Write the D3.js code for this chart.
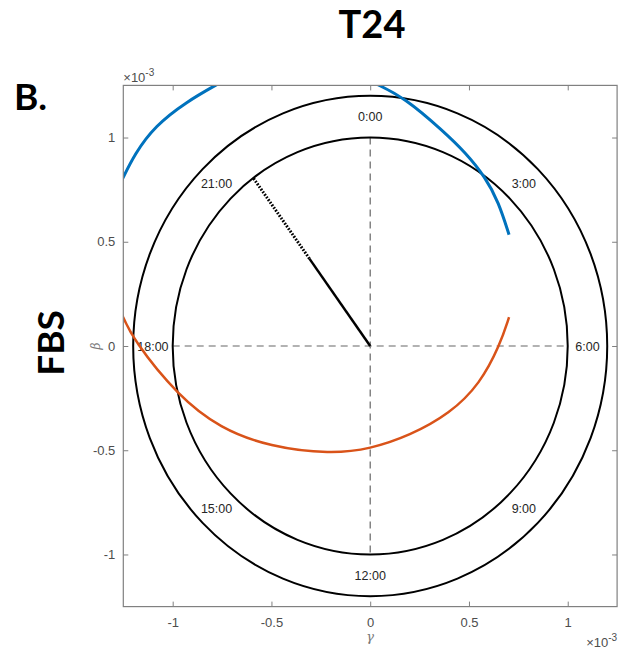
<!DOCTYPE html>
<html>
  <head>
    <meta charset="utf-8">
    <title>T24 FBS cosinor</title>
    <script src="https://cdn.jsdelivr.net/npm/d3@7"></script>
    <style>
      body { margin: 0; background: #fff; }
    </style>
  </head>
  <body>
    <script>

      // values in units of 1e-3
      var xTicks = [-1, -0.5, 0, 0.5, 1];
      var yTicks = [-1, -0.5, 0, 0.5, 1];
      var tickLabels = ["-1", "-0.5", "0", "0.5", "1"];
      var ringRadii = [1.0, 1.2];
      var hourLabels = ["0:00", "3:00", "6:00", "9:00", "12:00", "15:00", "18:00", "21:00"];
      var hourValues = [0, 3, 6, 9, 12, 15, 18, 21];
      var labelRadius = 1.1;

      // acrophase line (hours) and amplitude
      var acrophase = 21.58;
      var amplitude = 0.52;

      // blue confidence curve, two visible pieces [gamma, beta]
      var blueRight = [[0.024, 1.26], [0.176, 1.19], [0.37, 1.03], [0.48, 0.93], [0.583, 0.81], [0.65, 0.69], [0.703, 0.534]];
      var blueLeft = [[-1.26, 0.79], [-1.19, 0.925], [-1.09, 1.055], [-0.93, 1.172], [-0.765, 1.26]];
      // orange confidence curve
      var orange = [[-1.26, 0.158], [-1.2, 0.029], [-0.972, -0.24], [-0.76, -0.395], [-0.507, -0.484],
                    [-0.2, -0.518], [0, -0.494], [0.2, -0.43], [0.404, -0.324], [0.556, -0.182],
                    [0.657, 0.005], [0.703, 0.138]];

      var svg = d3.select("body").append("svg")
                  .attr("width", 622)
                  .attr("height", 652);

      var x = d3.scaleLinear().domain([-1.25, 1.25]).range([123.3, 617.1]);
      var y = d3.scaleLinear().domain([-1.25, 1.25]).range([606.6, 85.4]);

      var plot = svg.append("g");

      svg.append("defs").append("clipPath").attr("id", "box")
        .append("rect")
        .attr("x", x(-1.25)).attr("y", y(1.25))
        .attr("width", x(1.25) - x(-1.25)).attr("height", y(-1.25) - y(1.25));

      // dashed cross
      plot.append("line")
          .attr("x1", x(-1)).attr("x2", x(1)).attr("y1", y(0)).attr("y2", y(0))
          .attr("stroke", "#666").attr("stroke-width", 1.2).attr("stroke-dasharray", "7,5");
      plot.append("line")
          .attr("x1", x(0)).attr("x2", x(0)).attr("y1", y(1)).attr("y2", y(-1))
          .attr("stroke", "#666").attr("stroke-width", 1.2).attr("stroke-dasharray", "7,5");

      // rings
      plot.selectAll(".ring")
          .data(ringRadii)
          .enter()
          .append("ellipse")
          .attr("class", "ring")
          .attr("cx", x(0)).attr("cy", y(0))
          .attr("rx", function(d) { return x(d) - x(0); })
          .attr("ry", function(d) { return y(0) - y(d); })
          .attr("fill", "none").attr("stroke", "#000").attr("stroke-width", 2);

      // hour labels
      plot.selectAll(".hour")
          .data(hourValues)
          .enter()
          .append("text")
          .attr("class", "hour")
          .attr("x", function(d) { return x(labelRadius * Math.sin(d / 24 * 2 * Math.PI)); })
          .attr("y", function(d) { return y(labelRadius * Math.cos(d / 24 * 2 * Math.PI)); })
          .attr("dy", "0.36em")
          .attr("text-anchor", "middle")
          .style("font-family", "Liberation Sans, Arial, sans-serif")
          .style("font-size", "12.5px")
          .attr("fill", "#262626")
          .text(function(d, i) { return hourLabels[i]; });

      // acrophase line: solid to amplitude, dotted out to the unit circle
      var ang = acrophase / 24 * 2 * Math.PI;
      var ux = Math.sin(ang), uy = Math.cos(ang);
      plot.append("line")
          .attr("x1", x(0)).attr("y1", y(0))
          .attr("x2", x(amplitude * ux)).attr("y2", y(amplitude * uy))
          .attr("stroke", "#000").attr("stroke-width", 2.5);
      plot.append("line")
          .attr("x1", x(amplitude * ux)).attr("y1", y(amplitude * uy))
          .attr("x2", x(ux)).attr("y2", y(uy))
          .attr("stroke", "#000").attr("stroke-width", 3).attr("stroke-dasharray", "1.7,1.5");

      var line = d3.line()
                   .x(function(d) { return x(d[0]); })
                   .y(function(d) { return y(d[1]); })
                   .curve(d3.curveBasis);

      var curves = plot.append("g").attr("clip-path", "url(#box)");
      curves.append("path").datum(blueRight).attr("d", line)
            .attr("fill", "none").attr("stroke", "#0072BD").attr("stroke-width", 3);
      curves.append("path").datum(blueLeft).attr("d", line)
            .attr("fill", "none").attr("stroke", "#0072BD").attr("stroke-width", 3);
      curves.append("path").datum(orange).attr("d", line)
            .attr("fill", "none").attr("stroke", "#D95319").attr("stroke-width", 2.5);

      // axes, ticks inside
      var fmt = function(d, i) { return tickLabels[i]; };
      var axisCol = "#808080";

      var gb = svg.append("g").attr("transform", "translate(0," + y(-1.25) + ")")
                  .call(d3.axisBottom(x).tickValues(xTicks).tickFormat(fmt).tickSize(-5).tickPadding(11));
      var gl = svg.append("g").attr("transform", "translate(" + x(-1.25) + ",0)")
                  .call(d3.axisLeft(y).tickValues(yTicks).tickFormat(fmt).tickSize(-5).tickPadding(8));
      var gt = svg.append("g").attr("transform", "translate(0," + y(1.25) + ")")
                  .call(d3.axisTop(x).tickValues(xTicks).tickFormat("").tickSize(-5));
      var gr = svg.append("g").attr("transform", "translate(" + x(1.25) + ",0)")
                  .call(d3.axisRight(y).tickValues(yTicks).tickFormat("").tickSize(-5));

      [gb, gl, gt, gr].forEach(function(g) {
        g.select(".domain").remove();
        g.selectAll(".tick line").attr("stroke", axisCol);
        g.selectAll("text")
         .style("font-family", "Liberation Sans, Arial, sans-serif")
         .style("font-size", "13px")
         .attr("fill", "#4d4d4d");
      });

      svg.append("rect")
         .attr("x", x(-1.25)).attr("y", y(1.25))
         .attr("width", x(1.25) - x(-1.25)).attr("height", y(-1.25) - y(1.25))
         .attr("fill", "none").attr("stroke", axisCol).attr("stroke-width", 1.2);

      // axis labels
      svg.append("text")
         .attr("x", x(0)).attr("y", 641)
         .attr("text-anchor", "middle")
         .style("font-family", "DejaVu Serif, serif").style("font-style", "italic")
         .style("font-size", "13px").attr("fill", "#777")
         .text("γ");
      svg.append("text")
         .attr("transform", "translate(100," + y(0) + ") rotate(-90)")
         .attr("text-anchor", "middle")
         .style("font-family", "DejaVu Serif, serif").style("font-style", "italic")
         .style("font-size", "12px").attr("fill", "#777")
         .text("β");

      // exponent labels
      function expo(xp, yp, anchor) {
        var t = svg.append("text")
                   .attr("x", xp).attr("y", yp)
                   .attr("text-anchor", anchor)
                   .style("font-family", "Liberation Sans, Arial, sans-serif")
                   .style("font-size", "13px").attr("fill", "#4d4d4d");
        t.append("tspan").text("×10");
        t.append("tspan").attr("dy", "-6").style("font-size", "10px").text("-3");
      }
      expo(x(-1.25), 82, "start");
      expo(x(1.25), 647, "end");

      // headings
      svg.append("text")
         .attr("x", 372).attr("y", 38)
         .attr("text-anchor", "middle")
         .style("font-family", "Lato, Open Sans, sans-serif").style("font-weight", "bold")
         .style("font-size", "38px").attr("fill", "#000")
         .text("T24");
      svg.append("text")
         .attr("x", 14).attr("y", 110)
         .style("font-family", "Lato, Open Sans, sans-serif").style("font-weight", "bold")
         .style("font-size", "37px").attr("fill", "#000")
         .text("B.");
      svg.append("text")
         .attr("transform", "translate(64,343) rotate(-90)")
         .attr("text-anchor", "middle")
         .style("font-family", "Lato, Open Sans, sans-serif").style("font-weight", "bold")
         .style("font-size", "37px").attr("fill", "#000")
         .text("FBS");

    </script>
  </body>
</html>
